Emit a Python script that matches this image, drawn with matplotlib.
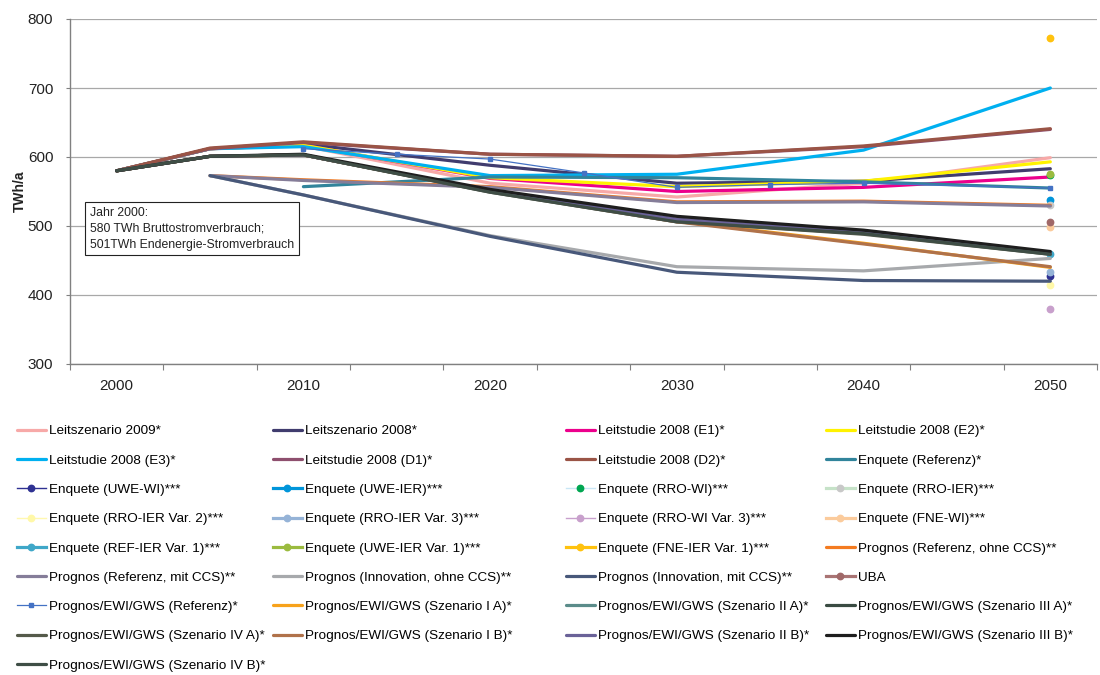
import matplotlib
matplotlib.use("Agg")
import matplotlib.pyplot as plt
from matplotlib.ticker import MultipleLocator, FixedLocator

plt.rcParams['font.family'] = ['Liberation Sans', 'DejaVu Sans']

# ---- data (TWh/a) ----
years_main = [2000, 2005, 2010, 2020, 2030, 2040, 2050]
years_enq_ref = [2010, 2020, 2030, 2040, 2050]
years_prognos = [2005, 2010, 2020, 2030, 2040, 2050]
years_peg_ref = [2010, 2015, 2020, 2025, 2030, 2035, 2040, 2050]
year_point = [2050]

leitszenario_2009 = [580, 612, 616, 562, 542, 562, 599]
leitszenario_2008 = [580, 612, 619, 588, 562, 565, 583]
leitstudie_e1 = [580, 612, 617, 569, 550, 556, 571]
leitstudie_e2 = [580, 612, 617, 570, 557, 565, 593]
leitstudie_e3 = [580, 612, 615, 573, 575, 610, 700]
leitstudie_d1 = [580, 612, 621, 604, 601, 615, 640]
leitstudie_d2 = [580, 613, 622, 604, 601, 616, 641]
enquete_referenz = [557, 571, 570, 564, 555]

enq_uwe_wi = [428]
enq_uwe_ier = [538]
enq_rro_wi = [574]
enq_rro_ier = [530]
enq_rro_ier_v2 = [415]
enq_rro_ier_v3 = [433]
enq_rro_wi_v3 = [380]
enq_fne_wi = [498]
enq_ref_ier_v1 = [460]
enq_uwe_ier_v1 = [575]
enq_fne_ier_v1 = [773]

prognos_ref_ohne = [573, 567, 557, 535, 536, 530]
prognos_ref_mit = [573, 566, 556, 534, 535, 529]
prognos_inno_ohne = [573, 545, 486, 441, 435, 453]
prognos_inno_mit = [573, 545, 485, 433, 421, 420]
uba = [506]

peg_referenz = [612, 604, 597, 577, 556, 560, 562, 555]
peg_1a = [580, 601, 603, 551, 507, 475, 440]
peg_2a = [580, 601, 603, 550, 507, 489, 460]
peg_3a = [580, 601, 603, 550, 508, 490, 461]
peg_4a = [580, 601, 603, 549, 506, 488, 459]
peg_1b = [580, 601, 603, 550, 506, 474, 441]
peg_2b = [580, 601, 603, 551, 510, 491, 461]
peg_3b = [580, 601, 604, 553, 514, 494, 463]
peg_4b = [580, 601, 603, 549, 506, 489, 459]

x_labels = [2000, 2010, 2020, 2030, 2040, 2050]

# (label, years, values, line colour, width, marker, marker colour)
series = [
    ("Leitszenario 2009*", years_main, leitszenario_2009, "#F7A9A8", 2.3, None, None),
    ("Leitszenario 2008*", years_main, leitszenario_2008, "#403C6E", 2.3, None, None),
    ("Leitstudie 2008 (E1)*", years_main, leitstudie_e1, "#EC008C", 2.3, None, None),
    ("Leitstudie 2008 (E2)*", years_main, leitstudie_e2, "#FFF200", 2.3, None, None),
    ("Leitstudie 2008 (E3)*", years_main, leitstudie_e3, "#00B0F0", 2.3, None, None),
    ("Leitstudie 2008 (D1)*", years_main, leitstudie_d1, "#8E4F6E", 2.3, None, None),
    ("Leitstudie 2008 (D2)*", years_main, leitstudie_d2, "#9A5446", 2.3, None, None),
    ("Enquete (Referenz)*", years_enq_ref, enquete_referenz, "#31849B", 2.3, None, None),
    ("Enquete (UWE-WI)***", year_point, enq_uwe_wi, "#2E3192", 1.0, "o", "#2E3192"),
    ("Enquete (UWE-IER)***", year_point, enq_uwe_ier, "#0095DA", 2.3, "o", "#0095DA"),
    ("Enquete (RRO-WI)***", year_point, enq_rro_wi, "#C9E6F5", 1.0, "o", "#00A651"),
    ("Enquete (RRO-IER)***", year_point, enq_rro_ier, "#C6E2C8", 2.3, "o", "#C8C8C8"),
    ("Enquete (RRO-IER Var. 2)***", year_point, enq_rro_ier_v2, "#FFF8B0", 1.0, "o", "#FFF8A8"),
    ("Enquete (RRO-IER Var. 3)***", year_point, enq_rro_ier_v3, "#95B3D7", 2.3, "o", "#95B3D7"),
    ("Enquete (RRO-WI Var. 3)***", year_point, enq_rro_wi_v3, "#C8A0CC", 1.0, "o", "#C8A0CC"),
    ("Enquete (FNE-WI)***", year_point, enq_fne_wi, "#FBCB9C", 2.3, "o", "#FBCB9C"),
    ("Enquete (REF-IER Var. 1)***", year_point, enq_ref_ier_v1, "#3FA7C8", 2.3, "o", "#3FA7C8"),
    ("Enquete (UWE-IER Var. 1)***", year_point, enq_uwe_ier_v1, "#9BBB3F", 2.3, "o", "#9BBB3F"),
    ("Enquete (FNE-IER Var. 1)***", year_point, enq_fne_ier_v1, "#FFC20E", 2.3, "o", "#FFC20E"),
    ("Prognos (Referenz, ohne CCS)**", years_prognos, prognos_ref_ohne, "#F47B20", 2.3, None, None),
    ("Prognos (Referenz, mit CCS)**", years_prognos, prognos_ref_mit, "#857D99", 2.3, None, None),
    ("Prognos (Innovation, ohne CCS)**", years_prognos, prognos_inno_ohne, "#A7A9AC", 2.3, None, None),
    ("Prognos (Innovation, mit CCS)**", years_prognos, prognos_inno_mit, "#48587A", 2.3, None, None),
    ("UBA", year_point, uba, "#A97474", 2.3, "o", "#A06868"),
    ("Prognos/EWI/GWS (Referenz)*", years_peg_ref, peg_referenz, "#4472C4", 0.9, "s", "#4472C4"),
    ("Prognos/EWI/GWS (Szenario I A)*", years_main, peg_1a, "#F7A21B", 2.3, None, None),
    ("Prognos/EWI/GWS (Szenario II A)*", years_main, peg_2a, "#5B8C8A", 2.3, None, None),
    ("Prognos/EWI/GWS (Szenario III A)*", years_main, peg_3a, "#3A4B42", 2.3, None, None),
    ("Prognos/EWI/GWS (Szenario IV A)*", years_main, peg_4a, "#555A4A", 2.3, None, None),
    ("Prognos/EWI/GWS (Szenario I B)*", years_main, peg_1b, "#B0724A", 2.3, None, None),
    ("Prognos/EWI/GWS (Szenario II B)*", years_main, peg_2b, "#6A6298", 2.3, None, None),
    ("Prognos/EWI/GWS (Szenario III B)*", years_main, peg_3b, "#1E1E1E", 2.3, None, None),
    ("Prognos/EWI/GWS (Szenario IV B)*", years_main, peg_4b, "#3F4E46", 2.3, None, None),
]

fig = plt.figure(figsize=(11, 6.75), dpi=100)
W, H = 1100, 675
ax = fig.add_axes([70 / W, 1 - 364 / H, 1027 / W, 345 / H])

handles = []
for label, xs, ys, col, lw, mk, mcol in series:
    if mk == "s":
        h, = ax.plot(xs, ys, color=col, lw=lw, marker="s", ms=3.0,
                     mfc=mcol, mec=mcol, label=label)
    elif mk == "o":
        h, = ax.plot(xs, ys, color=col, lw=lw, marker="o", ms=4.6,
                     mfc=mcol, mec=mcol, ls="-", label=label)
    else:
        h, = ax.plot(xs, ys, color=col, lw=lw, solid_capstyle="round",
                     solid_joinstyle="round", label=label)
    handles.append(h)

ax.set_ylim(300, 800)
ax.set_xlim(1997.5, 2052.5)
ax.yaxis.set_major_locator(MultipleLocator(100))
ax.set_xticks(x_labels)
ax.set_xticklabels([str(y) for y in x_labels])
ax.xaxis.set_minor_locator(FixedLocator([1997.5 + 5 * i for i in range(12)]))
ax.tick_params(axis="x", which="major", length=0, pad=11, labelsize=11, colors="#222222")
ax.tick_params(axis="x", which="minor", length=4, width=0.8, color="#808080")
ax.tick_params(axis="y", length=3, width=0.8, color="#808080", pad=9,
               labelsize=11, labelcolor="#222222")

ax.grid(axis="y", color="#A8A8A8", lw=0.9)
ax.set_axisbelow(True)
for s in ["top", "right"]:
    ax.spines[s].set_visible(False)
for s in ["left", "bottom"]:
    ax.spines[s].set_color("#808080")
    ax.spines[s].set_linewidth(1.0)

ax.set_ylabel("TWh/a", fontsize=10, fontweight="bold", color="#222222")
ax.yaxis.set_label_coords(-43 / 1027, 0.5)

fig.text(90 / W, 1 - 207 / H,
         "Jahr 2000:\n580 TWh Bruttostromverbrauch;\n501TWh Endenergie-Stromverbrauch",
         fontsize=8.8, va="top", ha="left", linespacing=1.42, color="#222222",
         bbox=dict(boxstyle="square,pad=0.4", fc="white", ec="#222222", lw=0.8))

# legend: 4 columns filled row by row, each column placed at its own x position
ncol = 4
col_x = [17, 273, 566, 826]
for c in range(ncol):
    idx = list(range(c, len(series), ncol))
    fig.legend([handles[i] for i in idx], [series[i][0] for i in idx],
               loc="upper left", bbox_to_anchor=(col_x[c] / W, 1 - 425 / H),
               bbox_transform=fig.transFigure, frameon=False, fontsize=9.7,
               handlelength=2.15, handletextpad=0.25, labelspacing=1.25,
               borderpad=0, borderaxespad=0, numpoints=1)

fig.savefig("out.png", dpi=100)
